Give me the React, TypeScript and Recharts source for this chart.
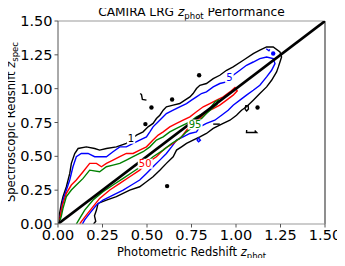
import { ComposedChart, Line, Scatter, XAxis, YAxis, ReferenceLine, ReferenceDot } from "recharts"

type P = { x: number; y: number }
const pts = (a: number[][]): P[] => a.map(([x, y]) => ({ x, y }))

const ticks = [0, 0.25, 0.5, 0.75, 1.0, 1.25, 1.5]

// contour level 1 (black)
const contour1 = pts([
  [0.006, 0], [0.009, 0.079], [0.019, 0.152], [0.028, 0.202], [0.047, 0.275], [0.066, 0.374],
  [0.075, 0.448], [0.094, 0.521], [0.113, 0.558], [0.159, 0.57], [0.206, 0.558], [0.234, 0.546],
  [0.272, 0.558], [0.328, 0.57], [0.384, 0.595], [0.403, 0.62], [0.441, 0.657], [0.478, 0.681],
  [0.506, 0.718], [0.534, 0.743], [0.553, 0.779], [0.572, 0.804], [0.591, 0.841], [0.609, 0.866],
  [0.647, 0.878], [0.684, 0.89], [0.713, 0.915], [0.741, 0.939], [0.759, 0.964], [0.778, 1.001],
  [0.797, 1.025], [0.834, 1.038], [0.872, 1.074], [0.909, 1.099], [0.947, 1.136], [0.984, 1.161],
  [1.041, 1.21], [1.097, 1.259], [1.134, 1.284], [1.172, 1.308], [1.209, 1.308], [1.247, 1.271],
  [1.256, 1.234], [1.247, 1.197], [1.238, 1.161], [1.228, 1.124], [1.2, 1.062], [1.172, 1.013],
  [1.134, 0.964], [1.097, 0.915], [1.059, 0.866], [1.031, 0.841], [1.003, 0.804], [0.966, 0.767],
  [0.928, 0.743], [0.872, 0.706], [0.834, 0.669], [0.797, 0.644], [0.759, 0.62], [0.722, 0.595],
  [0.694, 0.57], [0.666, 0.546], [0.647, 0.497], [0.609, 0.448], [0.572, 0.398], [0.534, 0.349],
  [0.497, 0.312], [0.459, 0.275], [0.403, 0.251], [0.328, 0.202], [0.272, 0.177], [0.225, 0.152],
  [0.216, 0.103], [0.205, 0.06], [0.212, 0.02], [0.2, 0],
])

// contour level 5 (blue)
const contour5 = pts([
  [0.012, 0.05], [0.028, 0.177], [0.047, 0.251], [0.066, 0.325], [0.084, 0.423], [0.103, 0.497],
  [0.131, 0.521], [0.169, 0.521], [0.206, 0.497], [0.234, 0.497], [0.272, 0.497], [0.309, 0.534],
  [0.347, 0.57], [0.384, 0.57], [0.422, 0.595], [0.459, 0.62], [0.497, 0.644], [0.516, 0.681],
  [0.534, 0.718], [0.563, 0.755], [0.591, 0.792], [0.609, 0.816], [0.647, 0.841], [0.684, 0.866],
  [0.722, 0.89], [0.75, 0.915], [0.778, 0.939], [0.806, 0.964], [0.834, 0.976], [0.872, 1.013],
  [0.909, 1.038], [0.947, 1.05], [0.984, 1.099], [1.022, 1.136], [1.059, 1.173], [1.097, 1.197],
  [1.134, 1.222], [1.172, 1.234], [1.209, 1.222], [1.219, 1.185], [1.2, 1.136], [1.172, 1.087],
  [1.134, 1.025], [1.097, 0.988], [1.059, 0.952], [1.022, 0.915], [0.984, 0.878], [0.956, 0.841],
  [0.919, 0.804], [0.881, 0.767], [0.834, 0.743], [0.797, 0.718], [0.778, 0.681], [0.741, 0.669],
  [0.703, 0.644], [0.666, 0.62], [0.638, 0.57], [0.609, 0.521], [0.572, 0.472], [0.534, 0.423],
  [0.497, 0.374], [0.459, 0.325], [0.413, 0.288], [0.366, 0.251], [0.309, 0.214], [0.253, 0.177],
  [0.216, 0.14], [0.178, 0.079], [0.15, 0.03], [0.137, 0],
])

// contour level 50 (red)
const contour50 = pts([
  [0.011, 0.03], [0.015, 0.079], [0.028, 0.152], [0.047, 0.226], [0.075, 0.288], [0.103, 0.325],
  [0.141, 0.386], [0.178, 0.448], [0.216, 0.448], [0.244, 0.423], [0.272, 0.448], [0.309, 0.472],
  [0.347, 0.497], [0.384, 0.521], [0.422, 0.521], [0.459, 0.546], [0.497, 0.57], [0.534, 0.62],
  [0.563, 0.657], [0.591, 0.681], [0.628, 0.718], [0.666, 0.743], [0.703, 0.767], [0.741, 0.792],
  [0.778, 0.829], [0.816, 0.866], [0.853, 0.89], [0.891, 0.915], [0.928, 0.939], [0.966, 0.976],
  [0.994, 1.008], [1.007, 0.984], [0.984, 0.952], [0.947, 0.915], [0.909, 0.878], [0.872, 0.853],
  [0.834, 0.829], [0.797, 0.779], [0.759, 0.743], [0.722, 0.693], [0.694, 0.644], [0.647, 0.595],
  [0.6, 0.558], [0.553, 0.497], [0.497, 0.448], [0.459, 0.398], [0.403, 0.349], [0.347, 0.3],
  [0.291, 0.251], [0.234, 0.189], [0.197, 0.128], [0.159, 0.066], [0.131, 0.017], [0.122, 0],
])

// contour level 95 (green)
const contour95 = pts([
  [0.012, 0.03], [0.019, 0.06], [0.028, 0.116], [0.047, 0.202], [0.075, 0.251], [0.103, 0.288],
  [0.141, 0.337], [0.178, 0.398], [0.234, 0.386], [0.272, 0.423], [0.309, 0.435], [0.347, 0.448],
  [0.384, 0.472], [0.422, 0.497], [0.478, 0.534], [0.516, 0.57], [0.553, 0.62], [0.591, 0.644],
  [0.628, 0.681], [0.666, 0.706], [0.703, 0.73], [0.741, 0.755], [0.778, 0.792], [0.816, 0.816],
  [0.853, 0.853], [0.881, 0.902], [0.9, 0.915], [0.894, 0.885], [0.872, 0.861], [0.834, 0.816],
  [0.797, 0.767], [0.769, 0.73], [0.722, 0.681], [0.684, 0.632], [0.638, 0.595], [0.591, 0.546],
  [0.534, 0.497], [0.478, 0.435], [0.422, 0.386], [0.366, 0.337], [0.309, 0.288], [0.253, 0.239],
  [0.197, 0.177], [0.15, 0.103], [0.122, 0.042], [0.103, 0],
])

// small black fragments
const frag1 = pts([[0.462, 0.965], [0.469, 0.956], [0.474, 0.92], [0.497, 0.915]])
const frag2 = pts([[1.06, 0.695], [1.059, 0.676], [1.116, 0.676], [1.105, 0.69]])
const frag3 = pts([[0.872, 0.738], [0.909, 0.738]])
const loop0 = pts([[1.05, 0.85], [1.055, 0.875], [1.068, 0.875], [1.07, 0.85], [1.06, 0.835], [1.05, 0.85]])
const blueLoop = pts([[0.78, 0.62], [0.79, 0.635], [0.8, 0.62], [0.79, 0.607], [0.78, 0.62]])
const blueTop = pts([[1.17, 1.295], [1.185, 1.28], [1.19, 1.29]])
const islands = pts([
  [0.793, 1.099], [0.641, 0.92], [0.525, 0.861], [0.491, 0.738], [0.613, 0.28], [1.121, 0.861],
])
const blueDots = pts([[1.209, 1.26]])

const diagonal = pts([[0, 0], [1.5, 1.5]])

const labels = [
  { x: 0.41, y: 0.63, text: "1", color: "#000" },
  { x: 0.963, y: 1.08, text: "5", color: "#0000ff" },
  { x: 0.49, y: 0.445, text: "50", color: "#ff0000" },
  { x: 0.77, y: 0.735, text: "95", color: "#008000" },
]

const font = "'DejaVu Sans', sans-serif"

const Dot = (props: any) => <circle cx={props.cx} cy={props.cy} r={2.2} fill={props.fill} />

const clabel = (text: string, color: string) => (props: any) => {
  const vb = props.viewBox || {}
  const cx = vb.x + (vb.width || 0) / 2
  const cy = vb.y + (vb.height || 0) / 2
  const w = text.length * 6.5 + 2
  return (
    <g>
      <rect x={cx - w / 2} y={cy - 5} width={w} height={10} fill="#fff" />
      <text x={cx} y={cy} textAnchor="middle" dominantBaseline="central" fontSize={10} fontFamily={font} fill={color}>
        {text}
      </text>
    </g>
  )
}

export default function App() {
  const contours: [P[], string][] = [
    [contour1, "#000"], [contour5, "#0000ff"], [contour50, "#ff0000"], [contour95, "#008000"],
    [frag1, "#000"], [frag2, "#000"], [frag3, "#000"], [loop0, "#000"],
    [blueLoop, "#0000ff"], [blueTop, "#0000ff"],
  ]
  return (
    <div style={{ width: 345, height: 266, margin: -8, fontFamily: font }}>
      <ComposedChart width={345} height={266} margin={{ top: 21, right: 20, bottom: 12, left: 8 }}>
        <XAxis
          type="number" dataKey="x" domain={[0, 1.5]} ticks={ticks} allowDataOverflow
          tickFormatter={(v: number) => v.toFixed(2)} height={30}
          tick={{ fontSize: 14.5, fill: "#000", fontFamily: font }}
          tickLine={{ stroke: "#555" }} tickSize={3.5} axisLine={{ stroke: "#999", strokeWidth: 1 }}
          label={{
            content: () => (
              <text x={191.5} y={256} textAnchor="middle" fontSize={11.5} fontFamily={font} fill="#000">
                Photometric Redshift <tspan fontStyle="italic">z</tspan>
                <tspan fontSize={8.5} dy={3}>phot</tspan>
              </text>
            ),
          }}
        />
        <YAxis
          type="number" dataKey="y" domain={[0, 1.5]} ticks={ticks} allowDataOverflow
          tickFormatter={(v: number) => v.toFixed(2)} width={50}
          tick={{ fontSize: 14.5, fill: "#000", fontFamily: font }}
          tickLine={{ stroke: "#555" }} tickSize={3.5} axisLine={{ stroke: "#555", strokeWidth: 1 }}
          label={{
            content: () => (
              <text x={15} y={122} transform="rotate(-90 15 122)" textAnchor="middle"
                fontSize={11.5} fontFamily={font} fill="#000">
                Spectroscopic Redshift <tspan fontStyle="italic">z</tspan>
                <tspan fontSize={8.5} dy={3}>spec</tspan>
              </text>
            ),
          }}
        />
        <ReferenceLine y={1.5} stroke="#999" strokeWidth={1.2} ifOverflow="visible" />
        <ReferenceLine x={1.5} stroke="#444" strokeWidth={1.2} ifOverflow="visible" />
        {contours.map(([d, c], i) => (
          <Line key={i} data={d} dataKey="y" type="linear" stroke={c} strokeWidth={1.4}
            dot={false} activeDot={false} isAnimationActive={false} />
        ))}
        <Scatter data={islands} fill="#000" shape={Dot} isAnimationActive={false} />
        <Scatter data={blueDots} fill="#0000ff" shape={Dot} isAnimationActive={false} />
        {labels.map((l, i) => (
          <ReferenceDot key={i} x={l.x} y={l.y} r={0} stroke="none"
            label={{ content: clabel(l.text, l.color) }} />
        ))}
        <Line data={diagonal} dataKey="y" type="linear" stroke="#000" strokeWidth={2.6}
          dot={false} activeDot={false} isAnimationActive={false} />
        <text x={191.5} y={15.5} textAnchor="middle" fontSize={12.2} fontFamily={font} fill="#000">
          CAMIRA LRG <tspan fontStyle="italic">z</tspan>
          <tspan fontSize={8.5} dy={3}>phot</tspan>
          <tspan dy={-3}> Performance</tspan>
        </text>
      </ComposedChart>
    </div>
  )
}
